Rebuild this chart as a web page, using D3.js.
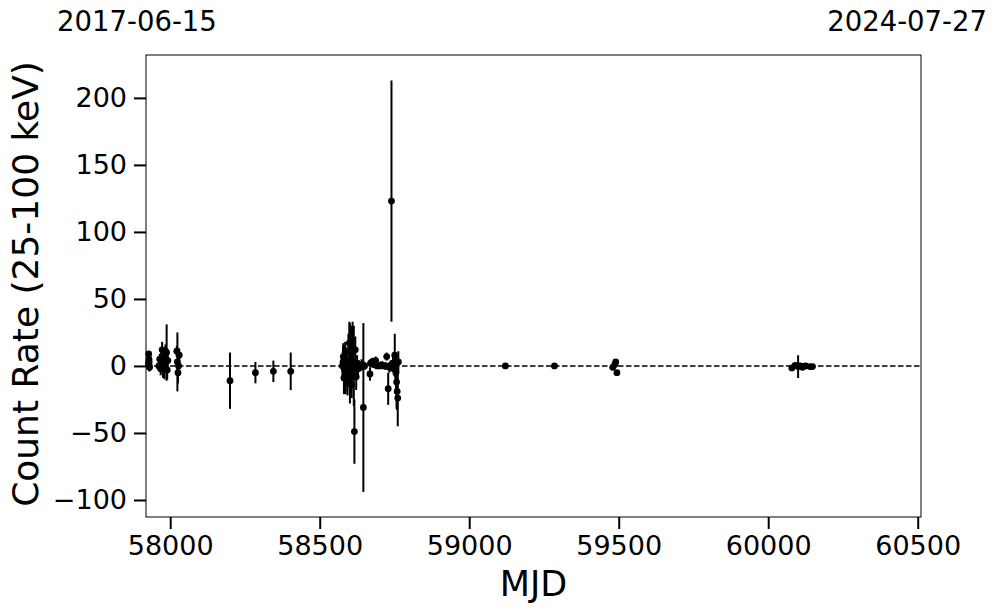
<!DOCTYPE html>
<html>
<head>
<meta charset="utf-8">
<script src="https://cdn.jsdelivr.net/npm/d3@7"></script>
<style>
  html, body { margin: 0; padding: 0; background: #fff; }
  svg { display: block; font-family: "DejaVu Sans", sans-serif; }
</style>
</head>
<body>
<svg id="chart" width="997" height="613"></svg>
<script>
// ---- data ----
const mjd = [
  57927, 57928, 57929, 57929.5, 57930, 57931,
  57962, 57965, 57968, 57970, 57973, 57976, 57978, 57981, 57984, 57988, 57990, 57992,
  58022, 58024, 58026, 58028, 58030,
  58200, 58285, 58345, 58403,
  58576, 58578, 58579, 58581, 58583, 58585, 58587, 58590, 58593, 58596, 58599, 58601,
  58603, 58605, 58607, 58610, 58612, 58614, 58616, 58619, 58622, 58625, 58628, 58632,
  58636, 58640, 58646, 58650,
  58668, 58670, 58675, 58680, 58687, 58692, 58700, 58707, 58714, 58720, 58724, 58729,
  58733, 58737, 58740, 58745, 58748, 58751, 58753, 58755, 58757, 58759, 58761, 58763,
  59121, 59285, 59480, 59487, 59490, 59494,
  60079, 60090, 60100, 60108, 60115, 60125, 60140, 60148
];
const rate = [
  2, 9, 5, 3, 0, -1,
  0, 5, -2, 3, 12, 1, 8, -1, 11, 10, -3, 4,
  11, 3, -5, 0, 8,
  -11, -5, -4, -4,
  0, 3, 7, -9, -3, 10, -5, 0, -12, 4, 17, 2,
  -7, 5, -14, 13, -3, 0, -49, 12, -8, 2, -2, 0,
  -1, 1, -31, 0,
  -6, 2, 3, 1, 4, 0, 0, 1, 0, 0, 7, -17,
  -1, 0, 123, 2, -2, 8, 0, -5, -12, -19, -24, 3,
  0, 0, -1, 1, 3, -5,
  -1.5, 0.5, -0.5, 0, -1, 0, -0.5, -0.5
];
const err = [
  3, 2, 3, 2, 4, 3,
  3, 4, 5, 8, 6, 10, 5, 9, 5, 21, 7, 6,
  4, 22, 8, 6, 5,
  21, 8, 8, 14,
  8, 12, 10, 12, 18, 8, 16, 14, 10, 20, 16, 30,
  14, 25, 10, 20, 8, 30, 24, 10, 10, 6, 5, 4,
  3, 4, 63, 3,
  5, 3, 3, 2, 3, 2, 2, 2, 2, 3, 3, 12,
  4, 4, 90, 6, 5, 16, 10, 12, 20, 14, 21, 8,
  1, 1, 2, 2, 2, 2,
  2, 2, 8.5, 2, 1.5, 1.5, 1.5, 1.5
];
const xTicks = [58000, 58500, 59000, 59500, 60000, 60500];
const yTicks = [-100, -50, 0, 50, 100, 150, 200];
const xDomain = [57919, 60511];
const yDomain = [-112.7, 232];
const dateLabels = ["2017-06-15", "2024-07-27"];
const xLabel = "MJD";
const yLabel = "Count Rate (25-100 keV)";

// ---- layout ----
const mL = 146, mR = 921, mT = 55, mB = 517;
const svg = d3.select("#chart");
const x = d3.scaleLinear().domain(xDomain).range([mL, mR]);
const y = d3.scaleLinear().domain(yDomain).range([mB, mT]);

const pts = mjd.map((m, i) => ({ m, r: rate[i], e: err[i] }));

const plot = svg.append("g");

// zero line
plot.append("line")
  .attr("x1", mL).attr("x2", mR)
  .attr("y1", y(0)).attr("y2", y(0))
  .attr("stroke", "#000").attr("stroke-width", 1.5)
  .attr("stroke-dasharray", "5.5,2.5");

// error bars
plot.selectAll("line.err").data(pts).join("line")
  .attr("class", "err")
  .attr("x1", d => x(d.m)).attr("x2", d => x(d.m))
  .attr("y1", d => y(d.r - d.e)).attr("y2", d => y(d.r + d.e))
  .attr("stroke", "#000").attr("stroke-width", 2);

// points
plot.selectAll("circle").data(pts).join("circle")
  .attr("cx", d => x(d.m)).attr("cy", d => y(d.r))
  .attr("r", 3.4).attr("fill", "#000");

// frame
svg.append("rect")
  .attr("x", mL).attr("y", mT)
  .attr("width", mR - mL).attr("height", mB - mT)
  .attr("fill", "none").attr("stroke", "#000").attr("stroke-width", 1);

// axes
const xAxis = d3.axisBottom(x).tickValues(xTicks).tickFormat(d3.format("d"))
  .tickSizeOuter(0).tickSizeInner(12).tickPadding(7);
const gx = svg.append("g").attr("transform", `translate(0,${mB})`).call(xAxis);
gx.select(".domain").remove();
gx.selectAll(".tick line").attr("stroke-width", 2);
gx.selectAll(".tick text").attr("font-size", 27).attr("fill", "#000")
  .attr("font-family", "DejaVu Sans");

const yAxis = d3.axisLeft(y).tickValues(yTicks)
  .tickFormat(d => d < 0 ? "\u2212" + Math.abs(d) : String(d))
  .tickSizeOuter(0).tickSizeInner(12).tickPadding(7);
const gy = svg.append("g").attr("transform", `translate(${mL},0)`).call(yAxis);
gy.select(".domain").remove();
gy.selectAll(".tick line").attr("stroke-width", 2);
gy.selectAll(".tick text").attr("font-size", 27).attr("fill", "#000")
  .attr("font-family", "DejaVu Sans");

// axis labels
svg.append("text")
  .attr("x", (mL + mR) / 2).attr("y", 596)
  .attr("text-anchor", "middle").attr("font-size", 35)
  .text(xLabel);
svg.append("text")
  .attr("transform", `translate(38,${(mT + mB) / 2 - 2}) rotate(-90)`)
  .attr("text-anchor", "middle").attr("font-size", 36)
  .text(yLabel);

// date labels
svg.append("text").attr("x", 57).attr("y", 31)
  .attr("font-size", 27.5).attr("text-anchor", "start").text(dateLabels[0]);
svg.append("text").attr("x", 987).attr("y", 31)
  .attr("font-size", 27.5).attr("text-anchor", "end").text(dateLabels[1]);
</script>
</body>
</html>
